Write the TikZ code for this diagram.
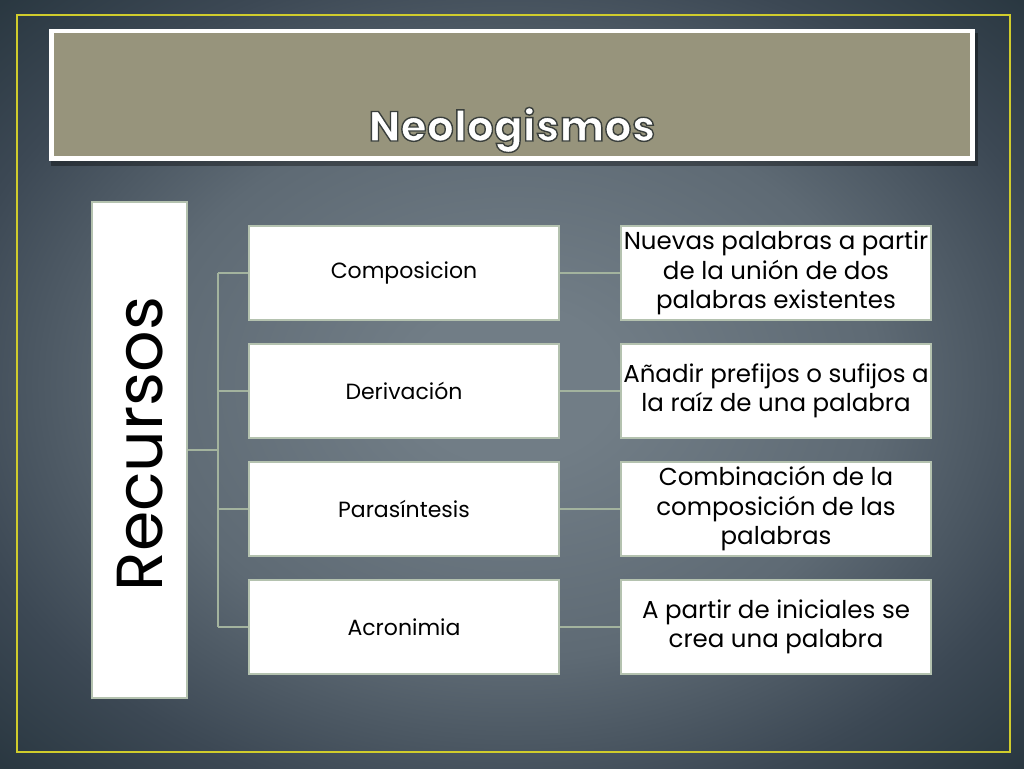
\documentclass[tikz,border=0pt]{standalone}
\usepackage{fontspec}
\setmainfont{Poppins}
\newfontfamily\titlefont[LetterSpace=1]{Poppins Bold}
\definecolor{bgin}{HTML}{717D86}
\definecolor{bgb}{HTML}{5E6A74}
\definecolor{bgmid}{HTML}{3C4854}
\definecolor{bgc}{HTML}{28363F}
\definecolor{bgout}{HTML}{0C1C2A}
\definecolor{olive}{HTML}{97947C}
\definecolor{frameyellow}{HTML}{D0CC2C}
\definecolor{linkcol}{HTML}{A3B39E}
\definecolor{boxline}{HTML}{B4C2AF}
\pgfdeclareradialshading{bgshade}{\pgfpoint{0bp}{0bp}}{color(0bp)=(bgin); color(5bp)=(bgin); color(18bp)=(bgb); color(28bp)=(bgmid); color(36bp)=(bgc); color(50bp)=(bgout)}
\newcommand{\outlinedtext}[1]{\textcolor{white}{\special{pdf:code 2 Tr 1.4 w 0.227 0.247 0.235 RG}#1\special{pdf:code 0 Tr}}}
\tikzset{
  card/.style={draw=boxline, line width=1.4pt, fill=white, minimum width=310pt, minimum height=94pt, inner sep=0pt, align=center},
  leftcard/.style={card, font=\fontsize{22}{29.5}\selectfont},
  rightcard/.style={card, font=\fontsize{24.5}{29.5}\selectfont},
  link/.style={draw=linkcol, line width=1.4pt},
}
\begin{document}
\begin{tikzpicture}[x=1pt,y=-1pt]
\useasboundingbox (0,0) rectangle (1024,768);
\shade[shading=bgshade] (0,0) rectangle (1024,768);
% yellow frame
\draw[frameyellow, line width=2pt] (16.5,15.5) rectangle (1010,752);
% title box
\fill[black, opacity=0.35] (51,33) rectangle (978,166);
\fill[white] (49,29) rectangle (975,161);
\fill[olive] (54,33) rectangle (970,156);
\node (title) [font=\titlefont\fontsize{42}{42}\selectfont, anchor=base] at (512,141) {\outlinedtext{Neologismos}};
% Recursos box
\node (rec) [draw=boxline, line width=1.4pt, fill=white, minimum width=95pt, minimum height=496pt, inner sep=0pt] at (139.5,450) {};
\node[rotate=90, font=\fontsize{65}{65}\selectfont] at (140,444) {Recursos};
% left cards
\node (c1) [leftcard] at (404,273) {Composicion};
\node (c2) [leftcard] at (404,391) {Derivación};
\node (c3) [leftcard] at (404,509) {Parasíntesis};
\node (c4) [leftcard] at (404,627) {Acronimia};
% right cards
\node (d1) [rightcard] at (776,273) {Nuevas palabras a partir\\de la unión de dos\\palabras existentes};
\node (d2) [rightcard] at (776,391) {Añadir prefijos o sufijos a\\la raíz de una palabra};
\node (d3) [rightcard] at (776,509) {Combinación de la\\composición de las\\palabras};
\node (d4) [rightcard] at (776,627) {A partir de iniciales se\\crea una palabra};
% tree connectors
\coordinate (j) at (218,450);
\coordinate (jt) at (218,273);
\coordinate (jb) at (218,627);
\draw[link] (rec.east |- j) -- (j);
\draw[link] (jt) -- (jb);
\draw[link] (jt) -- (c1.west);
\draw[link] (j |- c2.west) -- (c2.west);
\draw[link] (j |- c3.west) -- (c3.west);
\draw[link] (jb) -- (c4.west);
\draw[link] (c1) -- (d1);
\draw[link] (c2) -- (d2);
\draw[link] (c3) -- (d3);
\draw[link] (c4) -- (d4);
\end{tikzpicture}
\end{document}
